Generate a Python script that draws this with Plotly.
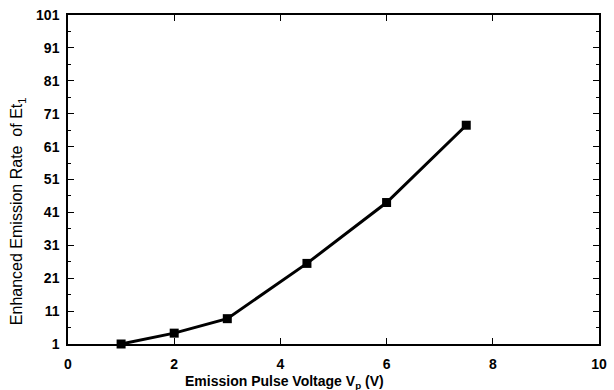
import plotly.graph_objects as go

voltage = [1, 2, 3, 4.5, 6, 7.5]
rate = [1, 4.3, 8.7, 25.5, 44, 67.5]

x_ticks = [0, 2, 4, 6, 8, 10]
y_ticks = [1, 11, 21, 31, 41, 51, 61, 71, 81, 91, 101]

x_title = "<b>Emission Pulse Voltage V<sub>p</sub> (V)</b>"
y_title = "Enhanced Emission Rate  of Et<sub>1</sub>"

fig = go.Figure()
fig.add_trace(go.Scatter(
    x=voltage, y=rate, mode="lines+markers",
    line=dict(color="black", width=3),
    marker=dict(symbol="square", size=9, color="black"),
    showlegend=False, cliponaxis=False,
))

axis_common = dict(
    showline=True, linecolor="black", linewidth=1.5, mirror="ticks",
    ticks="inside", ticklen=6, tickwidth=1.2, tickcolor="black",
    showgrid=False, zeroline=False, ticklabeloverflow="allow",
    tickfont=dict(family="Liberation Sans", size=14, color="black", weight="bold"),
)

fig.update_xaxes(
    range=[0, 10], tickvals=x_ticks, ticktext=[str(v) for v in x_ticks],
    ticklabelstandoff=6,
    **axis_common,
)
fig.update_yaxes(
    range=[1, 101], tickvals=y_ticks, ticktext=[str(v) for v in y_ticks],
    ticklabelstandoff=4,
    minor=dict(dtick=5, tick0=1, ticks="inside", ticklen=3, tickcolor="black"),
    **axis_common,
)

fig.add_annotation(
    text=x_title, xref="paper", yref="paper", x=0.408, y=-0.115,
    xanchor="center", yanchor="middle", showarrow=False,
    font=dict(family="Liberation Sans", size=14, color="black"),
)
fig.add_annotation(
    text=y_title, xref="paper", yref="paper", x=-0.0946, y=0.403,
    xanchor="center", yanchor="middle", showarrow=False, textangle=-90,
    font=dict(family="Liberation Sans", size=16, color="black"),
)

fig.update_layout(
    width=614, height=390,
    margin=dict(l=68, r=7, t=14, b=46),
    paper_bgcolor="white", plot_bgcolor="white",
)

fig.write_html("out.html")
